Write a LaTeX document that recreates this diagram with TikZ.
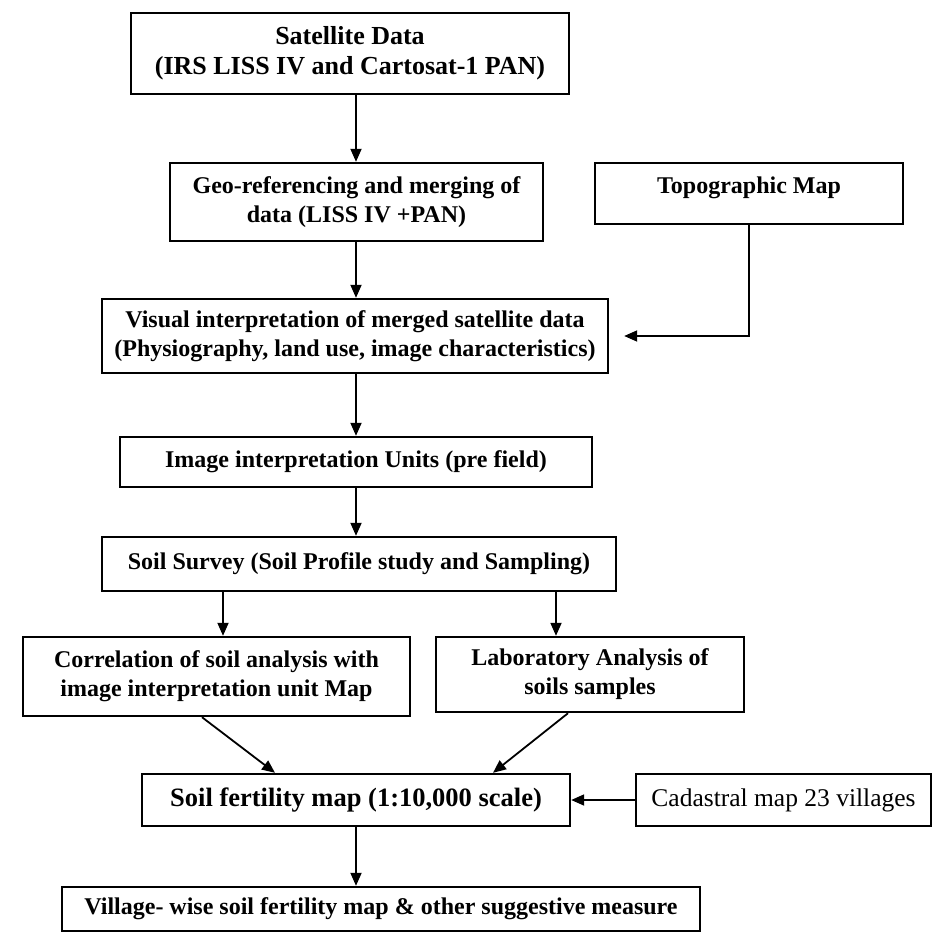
\documentclass[tikz,border=0pt]{standalone}
\usepackage{fontspec}
\setmainfont{Liberation Serif}
\usetikzlibrary{arrows.meta}
\begin{document}
\begin{tikzpicture}[x=1pt,y=-1pt,
  box/.style={draw, line width=2.4pt, inner sep=0pt, align=center,
    font=\bfseries\fontsize{24}{29}\selectfont},
  arr/.style={line width=1.8pt, -{Triangle[length=13pt,width=11pt]}}]
\useasboundingbox (0,0) rectangle (933,934);
% nodes
\node[box, minimum width=438pt, minimum height=81pt,
  font=\bfseries\fontsize{26}{30}\selectfont] (sat) at (350,53.5)
  {Satellite Data\\(IRS LISS IV and Cartosat-1 PAN)};
\node[box, minimum width=373pt, minimum height=78pt] (geo) at (356.5,202)
  {Geo-referencing and merging of\\data (LISS IV +PAN)};
\node[box, minimum width=308pt, minimum height=61pt] (topo) at (749,193.5)
  {\raisebox{6pt}[\height][\depth]{Topographic Map}};
\node[box, minimum width=506pt, minimum height=74pt] (vis) at (355,336)
  {Visual interpretation of merged satellite data\\(Physiography, land use, image characteristics)};
\node[box, minimum width=472pt, minimum height=50pt] (img) at (356,462)
  {Image interpretation Units (pre field)};
\node[box, minimum width=514pt, minimum height=54pt] (surv) at (359,564)
  {Soil Survey (Soil Profile study and Sampling)};
\node[box, minimum width=387pt, minimum height=79pt] (corr) at (216.5,676.5)
  {Correlation of soil analysis with\\image interpretation unit Map};
\node[box, minimum width=308pt, minimum height=75pt] (lab) at (590,674.5)
  {Laboratory Analysis of\\soils samples};
\node[box, minimum width=428pt, minimum height=52pt,
  font=\bfseries\fontsize{26.5}{31}\selectfont] (sf) at (356,800)
  {Soil fertility map (1:10,000 scale)};
\node[box, minimum width=295pt, minimum height=52pt,
  font=\fontsize{25.5}{30}\selectfont] (cad) at (783.5,800)
  {Cadastral map 23 villages};
\node[box, minimum width=638pt, minimum height=44pt] (vil) at (381,909)
  {Village- wise soil fertility map \& other suggestive measure};
% helper x positions
\coordinate (xc) at (356,0);
\coordinate (xl) at (223,0);
\coordinate (xr) at (556,0);
\coordinate (d1a) at (202,0);
\coordinate (d1b) at (275,0);
\coordinate (d2a) at (568,0);
\coordinate (d2b) at (493,0);
% connectors
\draw[arr] (sat.south -| xc) -- (geo.north -| xc);
\draw[arr] (geo.south -| xc) -- (vis.north -| xc);
\draw[arr, shorten >=15pt] (topo.south) |- (vis.east);
\draw[arr] (vis.south -| xc) -- (img.north -| xc);
\draw[arr] (img.south -| xc) -- (surv.north -| xc);
\draw[arr] (surv.south -| xl) -- (corr.north -| xl);
\draw[arr] (surv.south -| xr) -- (lab.north -| xr);
\draw[arr] (corr.south -| d1a) -- (sf.north -| d1b);
\draw[arr] (lab.south -| d2a) -- (sf.north -| d2b);
\draw[arr] (cad.west) -- (sf.east);
\draw[arr] (sf.south -| xc) -- (vil.north -| xc);
\end{tikzpicture}
\end{document}
